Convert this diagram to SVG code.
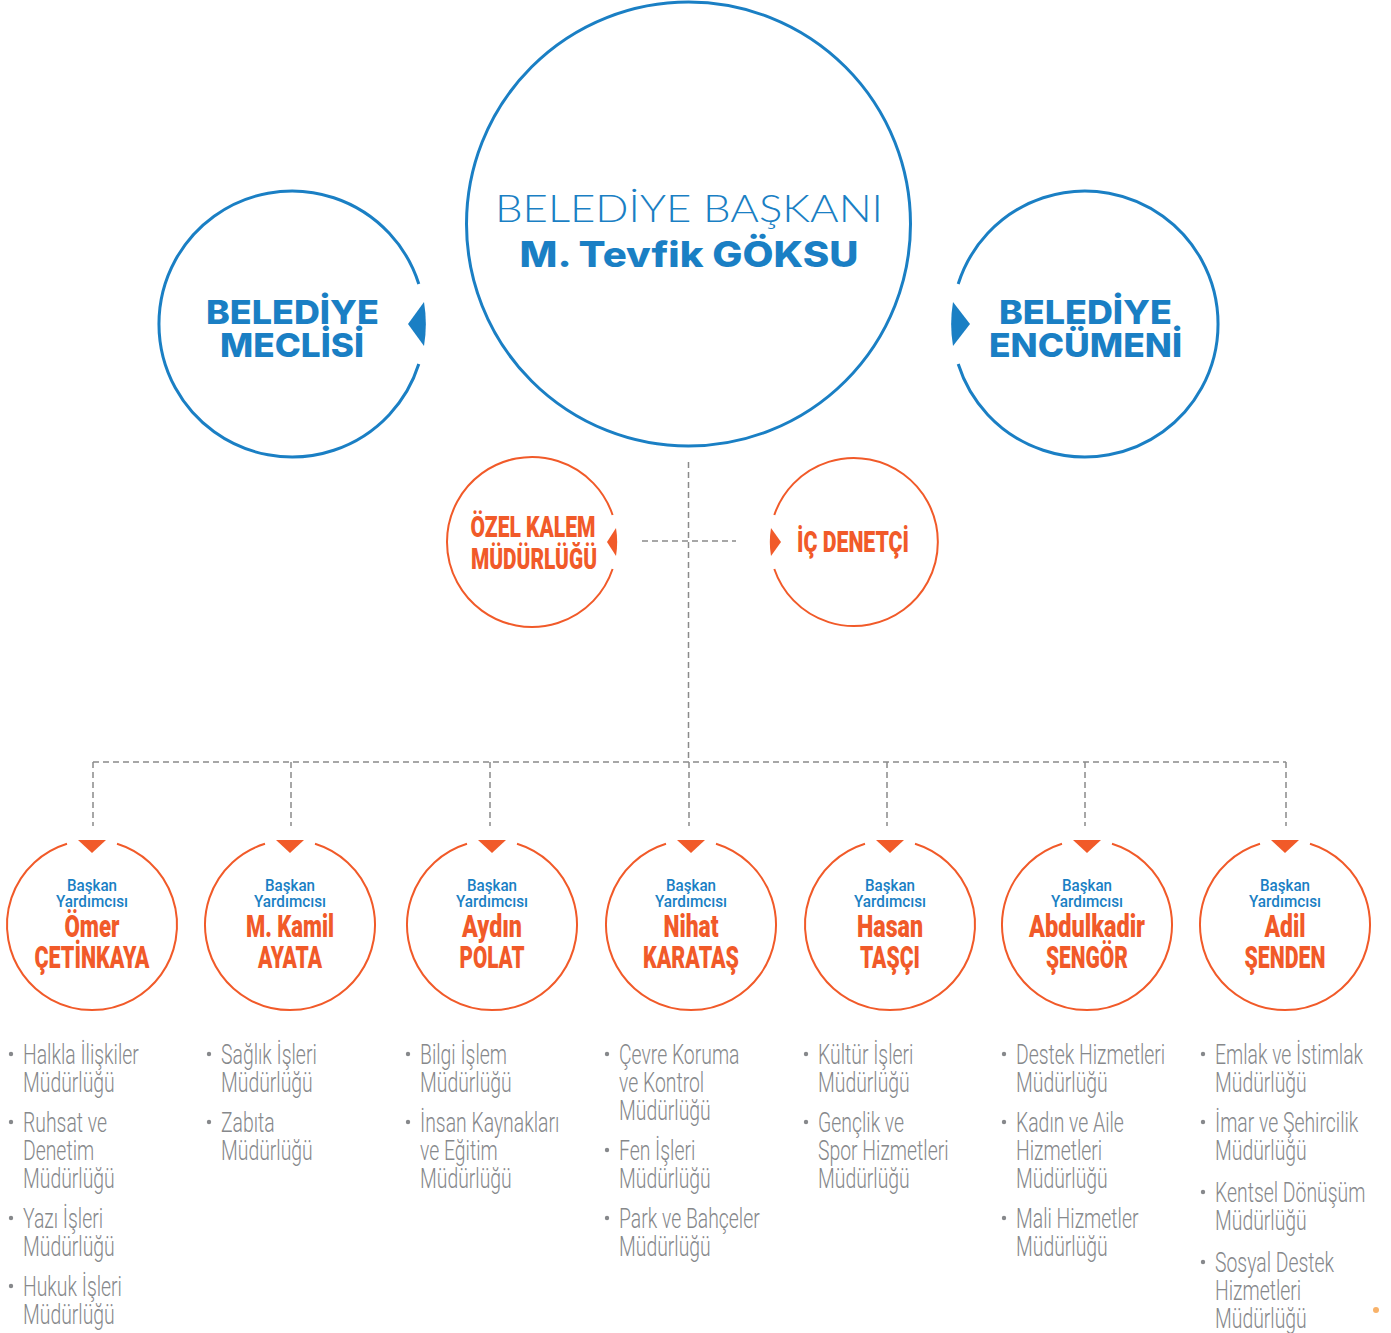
<svg xmlns="http://www.w3.org/2000/svg" width="1391" height="1333" viewBox="0 0 1391 1333">
<style>
.bl{fill:none;stroke:#1a7fc4;stroke-width:3}
.or{fill:none;stroke:#f15a29;stroke-width:2}
.blf{fill:#1a7fc4}
.orf{fill:#f15a29}
.dash{fill:none;stroke:#8a8a8a;stroke-width:1.5;stroke-dasharray:6 4}
.t1{font-family:Lato,"Liberation Sans",sans-serif;font-weight:300;font-size:38px;fill:#1a7fc4}
.t2{font-family:Inter,"Liberation Sans",sans-serif;font-weight:800;font-size:35px;fill:#1a7fc4}
.t3{font-family:Inter,"Liberation Sans",sans-serif;font-weight:800;font-size:33px;fill:#1a7fc4}
.ot{font-family:Roboto,"Liberation Sans",sans-serif;font-weight:900;font-size:29px;fill:#f15a29}
.by{font-family:Roboto,"Liberation Sans",sans-serif;font-weight:500;font-size:17px;fill:#1a7fc4}
.nm{font-family:Roboto,"Liberation Sans",sans-serif;font-weight:900;font-size:31px;fill:#f15a29}
.li{font-family:Roboto,"Liberation Sans",sans-serif;font-weight:300;font-size:27.5px;fill:#86888b}
.bu{fill:#86888b}
</style>

<g id="connectors">
<path class="dash" d="M688.5,462 V762"/>
<path class="dash" d="M642,541 H736"/>
<path class="dash" d="M93,762 H1286"/>
<path class="dash" d="M93,762 V826 M291,762 V826 M490,762 V826 M689,762 V826 M887,762 V826 M1085,762 V826 M1286,762 V826"/>
</g>

<g id="baskan">
<circle class="bl" cx="688.5" cy="224" r="222"/>
<text class="t1" x="689" y="222" text-anchor="middle" textLength="388" lengthAdjust="spacingAndGlyphs">BELEDİYE BAŞKANI</text>
<text class="t2" x="689" y="267" text-anchor="middle" textLength="339" lengthAdjust="spacingAndGlyphs">M. Tevfik GÖKSU</text>
</g>

<g id="meclis">
<path class="bl" d="M418.8,364 A133,133 0 1 1 418.8,284"/>
<path class="blf" d="M408,324 L424,302 A133,133 0 0 1 424,346 Z"/>
<text class="t3" x="292.5" y="324" text-anchor="middle" textLength="173" lengthAdjust="spacingAndGlyphs">BELEDİYE</text>
<text class="t3" x="292" y="357" text-anchor="middle" textLength="144" lengthAdjust="spacingAndGlyphs">MECLİSİ</text>
</g>

<g id="encumen">
<path class="bl" d="M958.2,284 A133,133 0 1 1 958.2,364"/>
<path class="blf" d="M970,324 L953,346 A133,133 0 0 1 953,302 Z"/>
<text class="t3" x="1085.5" y="324" text-anchor="middle" textLength="173" lengthAdjust="spacingAndGlyphs">BELEDİYE</text>
<text class="t3" x="1085.5" y="357" text-anchor="middle" textLength="193" lengthAdjust="spacingAndGlyphs">ENCÜMENİ</text>
</g>

<g id="ozelkalem">
<path class="or" d="M612.6,569 A85,85 0 1 1 612.6,515"/>
<path class="orf" d="M607,542 L616,528 A85,85 0 0 1 616,556 Z"/>
<text class="ot" x="533" y="537" text-anchor="middle" textLength="125" lengthAdjust="spacingAndGlyphs">ÖZEL KALEM</text>
<text class="ot" x="534" y="569" text-anchor="middle" textLength="126" lengthAdjust="spacingAndGlyphs">MÜDÜRLÜĞÜ</text>
</g>

<g id="icdenetci">
<path class="or" d="M774.3,515 A84,84 0 1 1 774.3,569"/>
<path class="orf" d="M781,542 L771,556 A84,84 0 0 1 771,528 Z"/>
<text class="ot" x="853" y="552" text-anchor="middle" textLength="112" lengthAdjust="spacingAndGlyphs">İÇ DENETÇİ</text>
</g>

<defs>
<path id="ring" class="or" d="M25,-81.2 A85,85 0 1 1 -25,-81.2"/>
<path id="tri" class="orf" d="M-14,-85 L14,-85 L0,-72 Z"/>
</defs>

<g id="by1" transform="translate(92,925)">
<use href="#ring"/><use href="#tri"/>
<text class="by" x="0" y="-34" text-anchor="middle" textLength="50" lengthAdjust="spacingAndGlyphs">Başkan</text>
<text class="by" x="0" y="-18" text-anchor="middle" textLength="72" lengthAdjust="spacingAndGlyphs">Yardımcısı</text>
<text class="nm" x="0" y="12" text-anchor="middle" textLength="55" lengthAdjust="spacingAndGlyphs">Ömer</text>
<text class="nm" x="0" y="43" text-anchor="middle" textLength="115" lengthAdjust="spacingAndGlyphs">ÇETİNKAYA</text>
</g>
<g id="by2" transform="translate(290,925)">
<use href="#ring"/><use href="#tri"/>
<text class="by" x="0" y="-34" text-anchor="middle" textLength="50" lengthAdjust="spacingAndGlyphs">Başkan</text>
<text class="by" x="0" y="-18" text-anchor="middle" textLength="72" lengthAdjust="spacingAndGlyphs">Yardımcısı</text>
<text class="nm" x="0" y="12" text-anchor="middle" textLength="88" lengthAdjust="spacingAndGlyphs">M. Kamil</text>
<text class="nm" x="0" y="43" text-anchor="middle" textLength="64" lengthAdjust="spacingAndGlyphs">AYATA</text>
</g>
<g id="by3" transform="translate(492,925)">
<use href="#ring"/><use href="#tri"/>
<text class="by" x="0" y="-34" text-anchor="middle" textLength="50" lengthAdjust="spacingAndGlyphs">Başkan</text>
<text class="by" x="0" y="-18" text-anchor="middle" textLength="72" lengthAdjust="spacingAndGlyphs">Yardımcısı</text>
<text class="nm" x="0" y="12" text-anchor="middle" textLength="60" lengthAdjust="spacingAndGlyphs">Aydın</text>
<text class="nm" x="0" y="43" text-anchor="middle" textLength="65" lengthAdjust="spacingAndGlyphs">POLAT</text>
</g>
<g id="by4" transform="translate(691,925)">
<use href="#ring"/><use href="#tri"/>
<text class="by" x="0" y="-34" text-anchor="middle" textLength="50" lengthAdjust="spacingAndGlyphs">Başkan</text>
<text class="by" x="0" y="-18" text-anchor="middle" textLength="72" lengthAdjust="spacingAndGlyphs">Yardımcısı</text>
<text class="nm" x="0" y="12" text-anchor="middle" textLength="55" lengthAdjust="spacingAndGlyphs">Nihat</text>
<text class="nm" x="0" y="43" text-anchor="middle" textLength="96" lengthAdjust="spacingAndGlyphs">KARATAŞ</text>
</g>
<g id="by5" transform="translate(890,925)">
<use href="#ring"/><use href="#tri"/>
<text class="by" x="0" y="-34" text-anchor="middle" textLength="50" lengthAdjust="spacingAndGlyphs">Başkan</text>
<text class="by" x="0" y="-18" text-anchor="middle" textLength="72" lengthAdjust="spacingAndGlyphs">Yardımcısı</text>
<text class="nm" x="0" y="12" text-anchor="middle" textLength="66" lengthAdjust="spacingAndGlyphs">Hasan</text>
<text class="nm" x="0" y="43" text-anchor="middle" textLength="60" lengthAdjust="spacingAndGlyphs">TAŞÇI</text>
</g>
<g id="by6" transform="translate(1087,925)">
<use href="#ring"/><use href="#tri"/>
<text class="by" x="0" y="-34" text-anchor="middle" textLength="50" lengthAdjust="spacingAndGlyphs">Başkan</text>
<text class="by" x="0" y="-18" text-anchor="middle" textLength="72" lengthAdjust="spacingAndGlyphs">Yardımcısı</text>
<text class="nm" x="0" y="12" text-anchor="middle" textLength="116" lengthAdjust="spacingAndGlyphs">Abdulkadir</text>
<text class="nm" x="0" y="43" text-anchor="middle" textLength="82" lengthAdjust="spacingAndGlyphs">ŞENGÖR</text>
</g>
<g id="by7" transform="translate(1285,925)">
<use href="#ring"/><use href="#tri"/>
<text class="by" x="0" y="-34" text-anchor="middle" textLength="50" lengthAdjust="spacingAndGlyphs">Başkan</text>
<text class="by" x="0" y="-18" text-anchor="middle" textLength="72" lengthAdjust="spacingAndGlyphs">Yardımcısı</text>
<text class="nm" x="0" y="12" text-anchor="middle" textLength="41" lengthAdjust="spacingAndGlyphs">Adil</text>
<text class="nm" x="0" y="43" text-anchor="middle" textLength="81" lengthAdjust="spacingAndGlyphs">ŞENDEN</text>
</g>

<g id="list1">
<circle class="bu" cx="11" cy="1054" r="2.2"/><circle class="bu" cx="11" cy="1122" r="2.2"/><circle class="bu" cx="11" cy="1218" r="2.2"/><circle class="bu" cx="11" cy="1286" r="2.2"/>
<g transform="translate(23,0) scale(0.705,1)">
<text class="li" x="0" y="1064">Halkla İlişkiler</text>
<text class="li" x="0" y="1092">Müdürlüğü</text>
<text class="li" x="0" y="1132">Ruhsat ve</text>
<text class="li" x="0" y="1160">Denetim</text>
<text class="li" x="0" y="1188">Müdürlüğü</text>
<text class="li" x="0" y="1228">Yazı İşleri</text>
<text class="li" x="0" y="1256">Müdürlüğü</text>
<text class="li" x="0" y="1296">Hukuk İşleri</text>
<text class="li" x="0" y="1324">Müdürlüğü</text>
</g>
</g>

<g id="list2">
<circle class="bu" cx="209" cy="1054" r="2.2"/><circle class="bu" cx="209" cy="1122" r="2.2"/>
<g transform="translate(221,0) scale(0.705,1)">
<text class="li" x="0" y="1064">Sağlık İşleri</text>
<text class="li" x="0" y="1092">Müdürlüğü</text>
<text class="li" x="0" y="1132">Zabıta</text>
<text class="li" x="0" y="1160">Müdürlüğü</text>
</g>
</g>

<g id="list3">
<circle class="bu" cx="408" cy="1054" r="2.2"/><circle class="bu" cx="408" cy="1122" r="2.2"/>
<g transform="translate(420,0) scale(0.705,1)">
<text class="li" x="0" y="1064">Bilgi İşlem</text>
<text class="li" x="0" y="1092">Müdürlüğü</text>
<text class="li" x="0" y="1132">İnsan Kaynakları</text>
<text class="li" x="0" y="1160">ve Eğitim</text>
<text class="li" x="0" y="1188">Müdürlüğü</text>
</g>
</g>

<g id="list4">
<circle class="bu" cx="607" cy="1054" r="2.2"/><circle class="bu" cx="607" cy="1150" r="2.2"/><circle class="bu" cx="607" cy="1218" r="2.2"/>
<g transform="translate(619,0) scale(0.705,1)">
<text class="li" x="0" y="1064">Çevre Koruma</text>
<text class="li" x="0" y="1092">ve Kontrol</text>
<text class="li" x="0" y="1120">Müdürlüğü</text>
<text class="li" x="0" y="1160">Fen İşleri</text>
<text class="li" x="0" y="1188">Müdürlüğü</text>
<text class="li" x="0" y="1228">Park ve Bahçeler</text>
<text class="li" x="0" y="1256">Müdürlüğü</text>
</g>
</g>

<g id="list5">
<circle class="bu" cx="806" cy="1054" r="2.2"/><circle class="bu" cx="806" cy="1122" r="2.2"/>
<g transform="translate(818,0) scale(0.705,1)">
<text class="li" x="0" y="1064">Kültür İşleri</text>
<text class="li" x="0" y="1092">Müdürlüğü</text>
<text class="li" x="0" y="1132">Gençlik ve</text>
<text class="li" x="0" y="1160">Spor Hizmetleri</text>
<text class="li" x="0" y="1188">Müdürlüğü</text>
</g>
</g>

<g id="list6">
<circle class="bu" cx="1004" cy="1054" r="2.2"/><circle class="bu" cx="1004" cy="1122" r="2.2"/><circle class="bu" cx="1004" cy="1218" r="2.2"/>
<g transform="translate(1016,0) scale(0.705,1)">
<text class="li" x="0" y="1064">Destek Hizmetleri</text>
<text class="li" x="0" y="1092">Müdürlüğü</text>
<text class="li" x="0" y="1132">Kadın ve Aile</text>
<text class="li" x="0" y="1160">Hizmetleri</text>
<text class="li" x="0" y="1188">Müdürlüğü</text>
<text class="li" x="0" y="1228">Mali Hizmetler</text>
<text class="li" x="0" y="1256">Müdürlüğü</text>
</g>
</g>

<g id="list7">
<circle class="bu" cx="1203" cy="1054" r="2.2"/><circle class="bu" cx="1203" cy="1122" r="2.2"/><circle class="bu" cx="1203" cy="1192" r="2.2"/><circle class="bu" cx="1203" cy="1262" r="2.2"/>
<g transform="translate(1215,0) scale(0.705,1)">
<text class="li" x="0" y="1064">Emlak ve İstimlak</text>
<text class="li" x="0" y="1092">Müdürlüğü</text>
<text class="li" x="0" y="1132">İmar ve Şehircilik</text>
<text class="li" x="0" y="1160">Müdürlüğü</text>
<text class="li" x="0" y="1202">Kentsel Dönüşüm</text>
<text class="li" x="0" y="1230">Müdürlüğü</text>
<text class="li" x="0" y="1272">Sosyal Destek</text>
<text class="li" x="0" y="1300">Hizmetleri</text>
<text class="li" x="0" y="1328">Müdürlüğü</text>
</g>
</g>

<circle cx="1376" cy="1310" r="3" fill="#f8b26a"/>
</svg>
